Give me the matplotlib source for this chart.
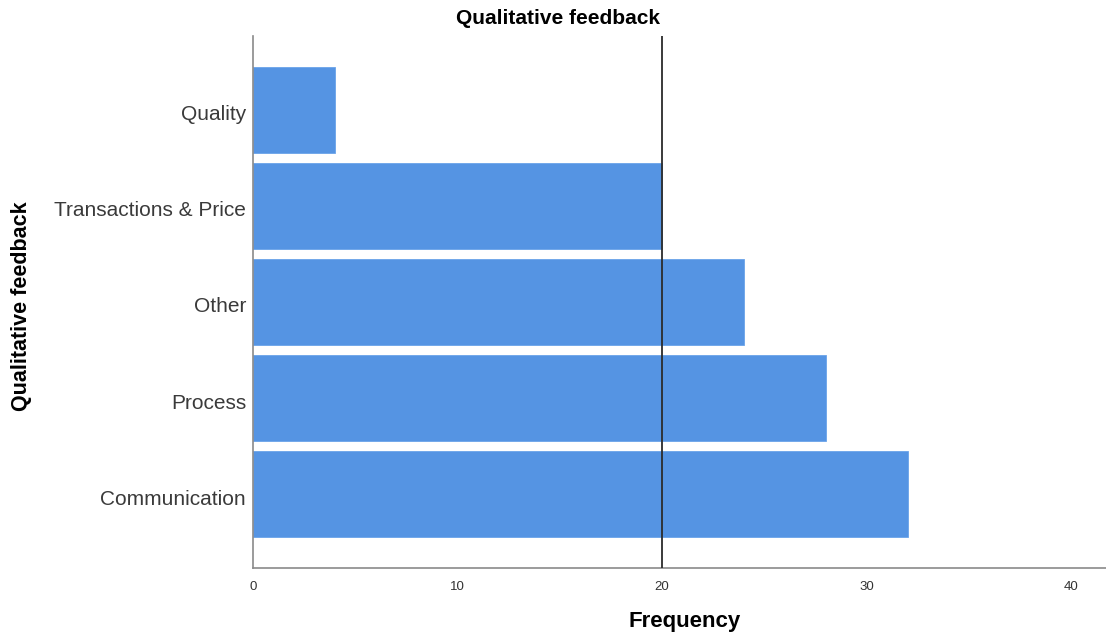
import matplotlib
matplotlib.use("Agg")
import matplotlib.pyplot as plt
from matplotlib.transforms import ScaledTranslation

categories = ["Communication", "Process", "Other", "Transactions & Price", "Quality"]
frequencies = [32, 28, 24, 20, 4]
x_ticks = [0, 10, 20, 30, 40]
ref_value = 20

plt.rcParams['font.family'] = ['Liberation Sans', 'DejaVu Sans']

fig = plt.figure(figsize=(11.06, 6.36), dpi=100)
W, H = 1106, 636
ax = fig.add_axes([253 / W, 1 - 568 / H, (1106 - 253) / W, (568 - 36) / H])

ypos = list(range(len(categories)))
ax.barh(ypos, frequencies, height=0.9, color="#5594E3", edgecolor="#6aa3ea", linewidth=0.6, zorder=2)
ax.axvline(ref_value, color="#2b2b2b", linewidth=1.3, zorder=3)

ax.set_xlim(0, 41.7)
ax.set_ylim(-0.77, len(categories) - 1 + 0.77)
ax.set_yticks(ypos)
ax.set_yticklabels(categories, fontsize=15, color="#3a3a3a")
ax.set_xticks(x_ticks)
ax.set_xticklabels([str(t) for t in x_ticks], fontsize=9.5, color="#333333")
ax.tick_params(axis="both", length=0)
ax.tick_params(axis="y", pad=5)
ax.tick_params(axis="x", pad=9)
shift = ScaledTranslation(0, -3 / 100, fig.dpi_scale_trans)
for lbl in ax.get_yticklabels():
    lbl.set_transform(lbl.get_transform() + shift)

for side in ["top", "right"]:
    ax.spines[side].set_visible(False)
for side in ["left", "bottom"]:
    ax.spines[side].set_color("#8a8a8a")
    ax.spines[side].set_linewidth(1.2)

ax.set_xlabel("Frequency", fontsize=16, fontweight="bold")
ax.xaxis.set_label_coords((685 - 253) / (1106 - 253), -(622 - 568) / (568 - 36))
ax.xaxis.label.set_va("center")
ax.set_ylabel("Qualitative feedback", fontsize=15.5, fontweight="bold")
ax.yaxis.set_label_coords(-(253 - 21) / (1106 - 253), (568 - 306) / (568 - 36))
ax.yaxis.label.set_va("center")
fig.text(558 / W, 1 - 18 / H, "Qualitative feedback", ha="center", va="center",
         fontsize=15, fontweight="bold")

fig.savefig("out.png", dpi=100)
